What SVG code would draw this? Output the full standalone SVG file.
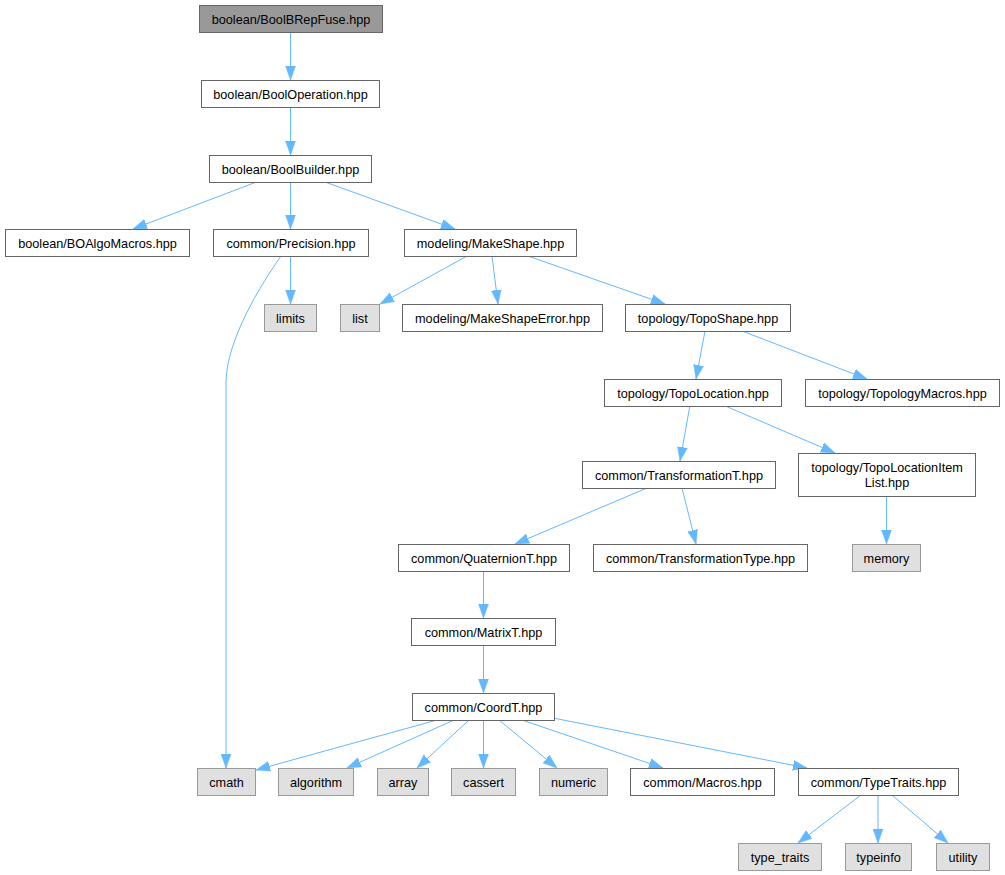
<svg xmlns="http://www.w3.org/2000/svg" width="1005" height="875" viewBox="0 0 1005 875">
<defs>
<marker id="arr" markerUnits="userSpaceOnUse" markerWidth="15" markerHeight="11" refX="14" refY="5.5" orient="auto" viewBox="0 0 15 11">
<path d="M0,0.5 L14,5.5 L0,10.5 z" fill="#63b8ff" stroke="#63b8ff" stroke-width="0.5"/>
</marker>
</defs>
<style>
.n rect{fill:#ffffff;stroke:#666666;stroke-width:1}
.g rect{fill:#e0e0e0;stroke:#999999;stroke-width:1}
.r rect{fill:#999999;stroke:#666666;stroke-width:1}
text{font-family:"Liberation Sans",Arial,sans-serif;font-size:12.7px;fill:#000000;text-anchor:middle}
#edges path{fill:none;stroke:#63b8ff;stroke-width:1;marker-end:url(#arr)}
</style>
<rect x="0" y="0" width="1005" height="875" fill="#ffffff"/>
<g id="edges">
<path d="M290.5,32 L290.5,80"/>
<path d="M290.5,107 L290.5,155"/>
<path d="M256.5,182 L133,229"/>
<path d="M290.5,182 L290.5,229"/>
<path d="M325,182 L455,229"/>
<path d="M290.5,256 L290.5,304"/>
<path d="M281,256 C262,283 226,340 226,383 L226,768"/>
<path d="M467,256 L380,304"/>
<path d="M492,256 L498,304"/>
<path d="M528,256 L665,304"/>
<path d="M705,331 L696,379"/>
<path d="M742,331 L867,379"/>
<path d="M690,405 L680,461"/>
<path d="M723,405 L835,453"/>
<path d="M647,488 L515,544"/>
<path d="M682,488 L696,544"/>
<path d="M886.5,496 L886.5,544"/>
<path d="M483.5,571 L483.5,618"/>
<path d="M483.5,645 L483.5,693"/>
<path d="M437,720 L256,770"/>
<path d="M454,720 L347,768"/>
<path d="M469,720 L417,768"/>
<path d="M483.5,720 L483.5,768"/>
<path d="M499,720 L557,768"/>
<path d="M522,720 L663,768"/>
<path d="M553,718 L807,768"/>
<path d="M861,795 L798,843"/>
<path d="M878,795 L878,843"/>
<path d="M892,795 L948,843"/>
</g>
<g id="n_fuse" class="r"><rect x="199.5" y="5.5" width="183" height="27"/><text x="291" y="23.5">boolean/BoolBRepFuse.hpp</text></g>
<g id="n_op" class="n"><rect x="201.5" y="80.5" width="178" height="27"/><text x="290.5" y="98.5">boolean/BoolOperation.hpp</text></g>
<g id="n_builder" class="n"><rect x="209.5" y="155.5" width="162" height="27"/><text x="290.5" y="173.5">boolean/BoolBuilder.hpp</text></g>
<g id="n_boalgo" class="n"><rect x="5.5" y="229.5" width="184" height="27"/><text x="97.5" y="247.5">boolean/BOAlgoMacros.hpp</text></g>
<g id="n_prec" class="n"><rect x="213.5" y="229.5" width="155" height="27"/><text x="291" y="247.5">common/Precision.hpp</text></g>
<g id="n_make" class="n"><rect x="404.5" y="229.5" width="172" height="27"/><text x="490.5" y="247.5">modeling/MakeShape.hpp</text></g>
<g id="n_limits" class="g"><rect x="264.5" y="304.5" width="52" height="27"/><text x="290.5" y="322.5">limits</text></g>
<g id="n_list" class="g"><rect x="340.5" y="304.5" width="39" height="27"/><text x="360" y="322.5">list</text></g>
<g id="n_mse" class="n"><rect x="402.5" y="304.5" width="200" height="27"/><text x="502.5" y="322.5">modeling/MakeShapeError.hpp</text></g>
<g id="n_toposhape" class="n"><rect x="625.5" y="304.5" width="165" height="27"/><text x="708" y="322.5">topology/TopoShape.hpp</text></g>
<g id="n_topoloc" class="n"><rect x="604.5" y="379.5" width="177" height="27"/><text x="693" y="397.5">topology/TopoLocation.hpp</text></g>
<g id="n_topomacros" class="n"><rect x="805.5" y="379.5" width="194" height="27"/><text x="902.5" y="397.5">topology/TopologyMacros.hpp</text></g>
<g id="n_transT" class="n"><rect x="582.5" y="461.5" width="193" height="27"/><text x="679" y="479.5">common/TransformationT.hpp</text></g>
<g id="n_locitem" class="n"><rect x="798.5" y="453.5" width="177" height="43"/><text x="887" y="472">topology/TopoLocationItem</text><text x="887" y="487">List.hpp</text></g>
<g id="n_quat" class="n"><rect x="398.5" y="544.5" width="171" height="27"/><text x="484" y="562.5">common/QuaternionT.hpp</text></g>
<g id="n_transType" class="n"><rect x="593.5" y="544.5" width="214" height="27"/><text x="700.5" y="562.5">common/TransformationType.hpp</text></g>
<g id="n_memory" class="g"><rect x="852.5" y="544.5" width="68" height="27"/><text x="886.5" y="562.5">memory</text></g>
<g id="n_matrix" class="n"><rect x="411.5" y="618.5" width="144" height="27"/><text x="483.5" y="636.5">common/MatrixT.hpp</text></g>
<g id="n_coord" class="n"><rect x="412.5" y="693.5" width="142" height="27"/><text x="483.5" y="711.5">common/CoordT.hpp</text></g>
<g id="n_cmath" class="g"><rect x="197.5" y="768.5" width="58" height="27"/><text x="226.5" y="786.5">cmath</text></g>
<g id="n_algo" class="g"><rect x="278.5" y="768.5" width="75" height="27"/><text x="316" y="786.5">algorithm</text></g>
<g id="n_array" class="g"><rect x="377.5" y="768.5" width="51" height="27"/><text x="403" y="786.5">array</text></g>
<g id="n_cassert" class="g"><rect x="451.5" y="768.5" width="64" height="27"/><text x="483.5" y="786.5">cassert</text></g>
<g id="n_numeric" class="g"><rect x="539.5" y="768.5" width="68" height="27"/><text x="573.5" y="786.5">numeric</text></g>
<g id="n_macros" class="n"><rect x="630.5" y="768.5" width="144" height="27"/><text x="702.5" y="786.5">common/Macros.hpp</text></g>
<g id="n_typetraits" class="n"><rect x="798.5" y="768.5" width="160" height="27"/><text x="878.5" y="786.5">common/TypeTraits.hpp</text></g>
<g id="n_type_traits" class="g"><rect x="738.5" y="843.5" width="83" height="27"/><text x="780" y="861.5">type_traits</text></g>
<g id="n_typeinfo" class="g"><rect x="845.5" y="843.5" width="66" height="27"/><text x="878.5" y="861.5">typeinfo</text></g>
<g id="n_utility" class="g"><rect x="936.5" y="843.5" width="53" height="27"/><text x="963" y="861.5">utility</text></g>
</svg>
